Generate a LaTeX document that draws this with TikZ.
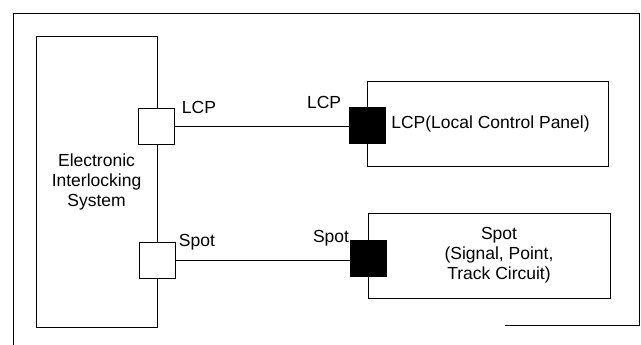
\documentclass[tikz,border=0pt]{standalone}
\usepackage{fontspec}
\setmainfont{Liberation Sans}
\usetikzlibrary{positioning}

\tikzset{
    unit/.style={draw, rectangle, line width=0.8pt, align=center},
    port/.style={draw, rectangle, line width=0.8pt, fill=white, minimum size=36pt, inner sep=0pt},
    dport/.style={port, fill=black},
    link/.style={line width=0.8pt}
}

\begin{document}
\begin{tikzpicture}[x=1pt, y=-1pt, font=\fontsize{17.5}{20}\selectfont]
\useasboundingbox (0,0) rectangle (641,345);
% frame of the figure
\draw[line width=0.7pt] (13,345) -- (13,13) -- (639,13) -- (639,325) -- (505,325);

% units
\node[unit, minimum width=121pt, minimum height=291pt] (eis) at (96.5,181.5) {Electronic\\Interlocking\\System};
\node[unit, minimum width=241pt, minimum height=85pt] (lcp) at (487.5,123.5) {\hspace{6pt}LCP(Local Control Panel)};
\node[unit, minimum width=242pt, minimum height=85pt] (spot) at (489,255.5) {\hspace{20pt}Spot\\\hspace{20pt}(Signal, Point,\\\hspace{20pt}Track Circuit)};

% ports
\node[port] (eislcp) at (156,126) {};
\node[port] (eisspot) at (157,260) {};
\node[dport] (lcpport) at (367,125) {};
\node[dport] (spotport) at (368,258) {};

\draw[link] (eislcp.east) -- (eislcp.east -| lcpport.west);
\draw[link] (eisspot.east) -- (eisspot.east -| spotport.west);

% port names
\node[above right=-10pt and 4pt of eislcp.north east] (eislcpname) {LCP};
\node[above right=-12pt and 0pt of eisspot.north east] (eisspotname) {Spot};
\node[above left=-6pt and 4pt of lcpport.north west] (lcpname) {LCP};
\node[above left=-10pt and -3pt of spotport.north west] (spotname) {Spot};
\end{tikzpicture}
\end{document}
